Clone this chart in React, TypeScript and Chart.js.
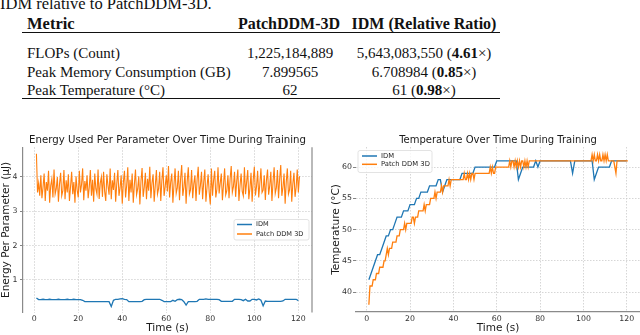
import React, { useEffect, useRef } from "react";
import { Chart, registerables } from "chart.js";

Chart.register(...registerables);

// ---------------- DATA ----------------
const seriesLabels = ["IDM", "Patch DDM 3D"];

const secondTime = [
  1, 2, 3, 4, 5, 6, 7, 8, 9, 10,
  11, 12, 13, 14, 15, 16, 17, 18, 19, 20,
  21, 22, 23, 24, 25, 26, 27, 28, 29, 30,
  31, 32, 33, 34, 35, 36, 37, 38, 39, 40,
  41, 42, 43, 44, 45, 46, 47, 48, 49, 50,
  51, 52, 53, 54, 55, 56, 57, 58, 59, 60,
  61, 62, 63, 64, 65, 66, 67, 68, 69, 70,
  71, 72, 73, 74, 75, 76, 77, 78, 79, 80,
  81, 82, 83, 84, 85, 86, 87, 88, 89, 90,
  91, 92, 93, 94, 95, 96, 97, 98, 99, 100,
  101, 102, 103, 104, 105, 106, 107, 108, 109, 110,
  111, 112, 113, 114, 115, 116, 117, 118, 119, 120,
];

const halfSecondTime = [
  1, 1.5, 2, 2.5, 3, 3.5, 4, 4.5, 5, 5.5,
  6, 6.5, 7, 7.5, 8, 8.5, 9, 9.5, 10, 10.5,
  11, 11.5, 12, 12.5, 13, 13.5, 14, 14.5, 15, 15.5,
  16, 16.5, 17, 17.5, 18, 18.5, 19, 19.5, 20, 20.5,
  21, 21.5, 22, 22.5, 23, 23.5, 24, 24.5, 25, 25.5,
  26, 26.5, 27, 27.5, 28, 28.5, 29, 29.5, 30, 30.5,
  31, 31.5, 32, 32.5, 33, 33.5, 34, 34.5, 35, 35.5,
  36, 36.5, 37, 37.5, 38, 38.5, 39, 39.5, 40, 40.5,
  41, 41.5, 42, 42.5, 43, 43.5, 44, 44.5, 45, 45.5,
  46, 46.5, 47, 47.5, 48, 48.5, 49, 49.5, 50, 50.5,
  51, 51.5, 52, 52.5, 53, 53.5, 54, 54.5, 55, 55.5,
  56, 56.5, 57, 57.5, 58, 58.5, 59, 59.5, 60, 60.5,
  61, 61.5, 62, 62.5, 63, 63.5, 64, 64.5, 65, 65.5,
  66, 66.5, 67, 67.5, 68, 68.5, 69, 69.5, 70, 70.5,
  71, 71.5, 72, 72.5, 73, 73.5, 74, 74.5, 75, 75.5,
  76, 76.5, 77, 77.5, 78, 78.5, 79, 79.5, 80, 80.5,
  81, 81.5, 82, 82.5, 83, 83.5, 84, 84.5, 85, 85.5,
  86, 86.5, 87, 87.5, 88, 88.5, 89, 89.5, 90, 90.5,
  91, 91.5, 92, 92.5, 93, 93.5, 94, 94.5, 95, 95.5,
  96, 96.5, 97, 97.5, 98, 98.5, 99, 99.5, 100, 100.5,
  101, 101.5, 102, 102.5, 103, 103.5, 104, 104.5, 105, 105.5,
  106, 106.5, 107, 107.5, 108, 108.5, 109, 109.5, 110, 110.5,
  111, 111.5, 112, 112.5, 113, 113.5, 114, 114.5, 115, 115.5,
  116, 116.5, 117, 117.5, 118, 118.5, 119, 119.5, 120, 120.5,
];

// Energy per parameter (µJ), IDM, one sample per second
const energyIDM = [
  0.47, 0.42, 0.42, 0.43, 0.42, 0.42, 0.43, 0.42, 0.42, 0.42,
  0.43, 0.42, 0.42, 0.42, 0.43, 0.42, 0.42, 0.43, 0.42, 0.42,
  0.42, 0.40, 0.36, 0.36, 0.36, 0.36, 0.36, 0.36, 0.36, 0.36,
  0.36, 0.36, 0.36, 0.36, 0.22, 0.40, 0.43, 0.43, 0.44, 0.45,
  0.43, 0.42, 0.36, 0.36, 0.36, 0.36, 0.36, 0.36, 0.37, 0.42,
  0.43, 0.43, 0.43, 0.43, 0.43, 0.43, 0.43, 0.40, 0.36, 0.36,
  0.36, 0.36, 0.40, 0.37, 0.42, 0.43, 0.42, 0.36, 0.26, 0.36,
  0.36, 0.36, 0.36, 0.37, 0.43, 0.43, 0.43, 0.44, 0.43, 0.43,
  0.43, 0.43, 0.43, 0.42, 0.37, 0.37, 0.37, 0.37, 0.37, 0.37,
  0.43, 0.43, 0.43, 0.42, 0.39, 0.43, 0.38, 0.38, 0.43, 0.43,
  0.41, 0.44, 0.40, 0.24, 0.38, 0.37, 0.37, 0.37, 0.37, 0.37,
  0.37, 0.37, 0.38, 0.43, 0.43, 0.43, 0.43, 0.43, 0.43, 0.39,
];

// Energy per parameter (µJ), Patch DDM 3D, two samples per second
const energyPatch = [
  4.68, 3.55, 3.82, 3.45, 4.05, 3.38, 3.70, 4.10, 3.30, 3.85,
  3.60, 4.18, 3.25, 3.75, 3.95, 3.40, 4.22, 3.50, 3.65, 4.00,
  3.28, 3.80, 4.12, 3.45, 3.60, 4.20, 3.35, 3.90, 3.55, 4.08,
  3.30, 3.72, 4.15, 3.50, 3.85, 3.25, 4.02, 3.62, 3.40, 4.18,
  3.55, 3.78, 4.25, 3.32, 3.88, 3.60, 4.05, 3.38, 3.70, 4.20,
  3.45, 3.92, 3.28, 4.10, 3.65, 3.50, 4.22, 3.36, 3.82, 4.00,
  3.42, 4.15, 3.58, 3.30, 4.08, 3.75, 3.48, 4.25, 3.35, 3.90,
  3.62, 4.12, 3.28, 3.80, 4.20, 3.45, 3.68, 4.05, 3.22, 3.85,
  4.18, 3.40, 3.75, 4.28, 3.30, 3.92, 3.55, 4.10, 3.25, 3.78,
  4.22, 3.48, 3.65, 4.02, 3.20, 3.88, 4.26, 3.42, 3.70, 4.12,
  3.35, 3.95, 3.60, 4.30, 3.38, 3.82, 4.08, 3.28, 3.75, 4.20,
  3.50, 3.66, 4.15, 3.30, 3.90, 4.28, 3.45, 3.72, 4.05, 3.58,
  4.32, 3.40, 3.85, 4.10, 3.25, 3.78, 4.25, 3.52, 3.68, 4.18,
  3.32, 3.95, 4.35, 3.45, 3.70, 4.12, 3.22, 3.88, 4.28, 3.50,
  3.62, 4.20, 3.38, 3.80, 4.05, 3.30, 3.92, 4.30, 3.48, 3.75,
  4.15, 3.35, 3.85, 4.22, 3.28, 3.70, 4.08, 3.55, 3.20, 4.25,
  3.45, 3.90, 4.18, 3.40, 3.65, 4.28, 3.52, 3.82, 4.10, 3.32,
  3.78, 4.25, 3.48, 3.60, 4.05, 3.38, 3.95, 4.32, 3.55, 3.72,
  4.15, 3.42, 3.88, 4.22, 3.30, 3.75, 4.10, 3.58, 3.45, 4.28,
  3.50, 3.85, 4.20, 3.35, 3.68, 4.12, 3.28, 3.92, 4.30, 3.46,
  3.72, 4.18, 3.40, 3.80, 4.25, 3.55, 3.62, 4.05, 3.33, 3.90,
  4.22, 3.48, 3.75, 4.15, 3.30, 3.86, 4.28, 3.52, 3.68, 4.20,
  3.38, 3.95, 4.35, 3.45, 3.70, 4.10, 3.22, 3.85, 4.25, 3.50,
  3.62, 4.18, 3.28, 3.80, 4.12, 3.42, 3.70, 4.22, 3.55, 4.02,
];

// Temperature (°C), IDM, one sample per second
const tempIDM = [
  42, 43, 44, 45, 46, 46, 47, 48, 49, 49,
  50, 50, 51, 52, 52, 52, 53, 53, 53, 54,
  54, 54, 55, 55, 56, 56, 56, 56, 57, 57,
  57, 57, 58, 58, 56, 57, 58, 58, 58, 58,
  58, 58, 58, 59, 59, 59, 59, 59, 59, 60,
  60, 60, 60, 60, 60, 60, 60, 60, 60, 61,
  61, 61, 61, 61, 61, 61, 61, 61, 61, 58,
  59, 60, 60, 60, 60, 60, 60, 61, 60, 61,
  61, 61, 61, 61, 61, 61, 61, 61, 61, 61,
  61, 61, 61, 61, 59, 61, 61, 61, 61, 61,
  61, 61, 61, 61, 58, 59, 60, 60, 60, 60,
  60, 60, 61, 61, 61, 61, 61, 61, 61, 61,
];

// Temperature (°C), Patch DDM 3D, two samples per second
const tempPatch = [
  38, 41, 41, 41, 42, 42, 42, 43, 43, 43,
  44, 44, 44, 44, 45, 45, 46, 47, 46, 47,
  47, 47, 48, 48, 48, 48, 49, 49, 49, 50,
  50, 50, 50, 51, 50, 51, 51, 51, 51, 51,
  52, 52, 51, 52, 52, 52, 53, 53, 53, 53,
  53, 54, 53, 54, 54, 54, 54, 55, 55, 55,
  55, 56, 55, 56, 56, 56, 56, 57, 56, 57,
  57, 57, 57, 57, 58, 57, 58, 58, 58, 58,
  58, 58, 58, 58, 58, 58, 58, 58, 59, 58,
  58, 59, 58, 59, 58, 59, 59, 58, 59, 59,
  59, 59, 59, 59, 59, 59, 59, 59, 59, 59,
  59, 59, 60, 59, 60, 59, 59, 60, 60, 60,
  60, 60, 60, 60, 60, 60, 60, 60, 60, 60,
  61, 60, 61, 61, 60, 61, 60, 61, 60, 61,
  60, 61, 61, 60, 61, 60, 61, 60, 61, 61,
  61, 61, 61, 61, 61, 61, 61, 61, 61, 61,
  61, 61, 61, 61, 61, 61, 61, 61, 61, 61,
  61, 61, 61, 61, 61, 61, 61, 61, 61, 61,
  61, 61, 61, 61, 61, 61, 61, 61, 61, 61,
  61, 61, 61, 61, 61, 61, 61, 61, 61, 61,
  61, 61, 61, 61, 61, 61, 62, 61, 62, 61,
  61, 62, 61, 62, 61, 61, 62, 61, 62, 61,
  62, 61, 61, 61, 61, 61, 61, 60, 59, 61,
  61, 61, 61, 61, 61, 61, 61, 61, 61, 61,
];

const timeTicks = [0, 20, 40, 60, 80, 100, 120];
const energyTicks = [1, 2, 3, 4];
const tempTicks = [40, 45, 50, 55, 60];

const tableHeader = ["Metric", "PatchDDM-3D", "IDM (Relative Ratio)"];
const tableMetrics = ["FLOPs (Count)", "Peak Memory Consumption (GB)", "Peak Temperature (°C)"];
const tablePatch = ["1,225,184,889", "7.899565", "62"];
const tableIDM = ["5,643,083,550", "6.708984", "61"];
const tableRatio = ["4.61", "0.85", "0.98"];

// ---------------- STYLE ----------------
const BLUE = "#1f77b4";
const ORANGE = "#ff7f0e";
const GRID = "#cccccc";
const SPINE = "#8a8a8a";
const SANS = '"DejaVu Sans", sans-serif';
const SERIF = '"Liberation Serif", "DejaVu Serif", serif';

const insideLegend = {
  id: "insideLegend",
  afterDraw(chart: any, _args: any, opts: any) {
    const ctx = chart.ctx;
    const { x, y, w, h, rows, lineX, lineLen, textGap, fontSize } = opts;
    ctx.save();
    const r = 2;
    ctx.beginPath();
    ctx.moveTo(x + r, y);
    ctx.lineTo(x + w - r, y);
    ctx.quadraticCurveTo(x + w, y, x + w, y + r);
    ctx.lineTo(x + w, y + h - r);
    ctx.quadraticCurveTo(x + w, y + h, x + w - r, y + h);
    ctx.lineTo(x + r, y + h);
    ctx.quadraticCurveTo(x, y + h, x, y + h - r);
    ctx.lineTo(x, y + r);
    ctx.quadraticCurveTo(x, y, x + r, y);
    ctx.closePath();
    ctx.fillStyle = "rgba(255,255,255,0.8)";
    ctx.fill();
    ctx.strokeStyle = "#dcdcdc";
    ctx.lineWidth = 0.8;
    ctx.stroke();
    ctx.font = `${fontSize}px ${SANS}`;
    ctx.textBaseline = "middle";
    ctx.textAlign = "left";
    chart.data.datasets.forEach((ds: any, i: number) => {
      const ry = rows[i];
      ctx.strokeStyle = ds.borderColor;
      ctx.lineWidth = 1.5;
      ctx.beginPath();
      ctx.moveTo(lineX, ry);
      ctx.lineTo(lineX + lineLen, ry);
      ctx.stroke();
      ctx.fillStyle = "#262626";
      ctx.fillText(ds.label, lineX + lineLen + textGap, ry);
    });
    ctx.restore();
  },
};

const rightSpine = {
  id: "rightSpine",
  afterDraw(chart: any) {
    const { ctx, chartArea: a } = chart;
    ctx.save();
    ctx.strokeStyle = SPINE;
    ctx.lineWidth = 1.2;
    ctx.beginPath();
    ctx.moveTo(a.right, a.top);
    ctx.lineTo(a.right, a.bottom);
    ctx.stroke();
    ctx.restore();
  },
};

const pairs = (xs: number[], ys: number[]) => ys.map((v, i) => ({ x: xs[i], y: v }));

function commonOptions(o: any) {
  return {
    animation: false,
    responsive: true,
    maintainAspectRatio: false,
    layout: { padding: o.padding },
    elements: { point: { radius: 0 }, line: { tension: 0 } },
    plugins: {
      legend: { display: false },
      tooltip: { enabled: false },
      title: {
        display: true,
        text: o.title,
        fullSize: false,
        color: "#1a1a1a",
        font: { family: SANS, size: o.titleSize, weight: "normal" },
        padding: { top: 9, bottom: 1 },
      },
      insideLegend: o.legend,
    },
    scales: {
      x: {
        type: "linear",
        min: o.xMin,
        max: o.xMax,
        afterBuildTicks: (s: any) => {
          s.ticks = timeTicks.map((v) => ({ value: v }));
        },
        afterFit: (s: any) => {
          s.height = o.xHeight;
        },
        grid: { color: GRID, lineWidth: 0.8, drawTicks: false },
        border: { display: o.xBorder, color: SPINE, width: 1.2, dash: [1.5, 1.5] },
        ticks: {
          font: { family: SANS, size: 7.8 },
          color: "#333",
          padding: 2,
          maxRotation: 0,
          callback: (v: any) => `${v}`,
        },
        title: {
          display: true,
          text: "Time (s)",
          color: "#1a1a1a",
          font: { family: SANS, size: 10.5 },
          padding: { top: 0, bottom: 0.5 },
        },
      },
      y: {
        type: "linear",
        min: o.yMin,
        max: o.yMax,
        afterBuildTicks: (s: any) => {
          s.ticks = o.yTicks.map((v: number) => ({ value: v }));
        },
        afterFit: (s: any) => {
          s.width = o.yWidth;
        },
        grid: { color: GRID, lineWidth: 0.8, drawTicks: true, tickLength: 3, tickColor: "#666", tickWidth: 0.8 },
        border: { display: o.yBorder, color: SPINE, width: 1.2, dash: [1.5, 1.5] },
        ticks: {
          font: { family: SANS, size: 7.8 },
          color: "#333",
          padding: o.yTickPad,
          callback: (v: any) => `${v}`,
        },
        title: {
          display: true,
          text: o.yTitle,
          color: "#1a1a1a",
          font: { family: SANS, size: 10.5 },
          padding: { top: o.yTitlePad, bottom: 0 },
        },
      },
    },
  };
}

function energyConfig(): any {
  return {
    type: "line",
    data: {
      datasets: [
        {
          label: seriesLabels[0],
          data: pairs(secondTime, energyIDM),
          borderColor: BLUE,
          borderWidth: 1.3,
          order: 1,
        },
        {
          label: seriesLabels[1],
          data: pairs(halfSecondTime, energyPatch),
          borderColor: ORANGE,
          borderWidth: 1.1,
          order: 0,
        },
      ],
    },
    options: commonOptions({
      title: "Energy Used Per Parameter Over Time During Training",
      titleSize: 10.2,
      padding: { left: 0, right: 8, top: 0, bottom: 0 },
      xMin: -5.1,
      xMax: 126.2,
      xHeight: 22.5,
      xBorder: false,
      yMin: 0.044,
      yMax: 4.868,
      yTicks: energyTicks,
      yWidth: 23,
      yBorder: true,
      yTickPad: 2.5,
      yTitle: "Energy Per Parameter (µJ)",
      yTitlePad: 0.3,
      legend: {
        x: 234,
        y: 94.5,
        w: 75,
        h: 20.5,
        rows: [99.5, 109],
        lineX: 237,
        lineLen: 15,
        textGap: 4,
        fontSize: 6.6,
      },
    }),
    plugins: [insideLegend, rightSpine],
  };
}

function tempConfig(): any {
  return {
    type: "line",
    data: {
      datasets: [
        {
          label: seriesLabels[0],
          data: pairs(secondTime, tempIDM),
          borderColor: BLUE,
          borderWidth: 1.3,
          order: 1,
        },
        {
          label: seriesLabels[1],
          data: pairs(halfSecondTime, tempPatch),
          borderColor: ORANGE,
          borderWidth: 1.3,
          order: 0,
        },
      ],
    },
    options: commonOptions({
      title: "Temperature Over Time During Training",
      titleSize: 10,
      padding: { left: 0, right: 0, top: 0, bottom: 0 },
      xMin: -4.94,
      xMax: 126.1,
      xHeight: 23,
      xBorder: true,
      yMin: 36.85,
      yMax: 63.2,
      yTicks: tempTicks,
      yWidth: 36,
      yBorder: false,
      yTickPad: 1,
      yTitle: "Temperature (°C)",
      yTitlePad: 9.5,
      legend: {
        x: 38,
        y: 25.5,
        w: 74,
        h: 22,
        rows: [31, 39.3],
        lineX: 42,
        lineLen: 15,
        textGap: 4,
        fontSize: 6.8,
      },
    }),
    plugins: [insideLegend],
  };
}

function ChartBox({ make, left, top, width, height }: any) {
  const ref = useRef<HTMLCanvasElement>(null);
  useEffect(() => {
    const chart = new Chart(ref.current as HTMLCanvasElement, make());
    return () => chart.destroy();
  }, []);
  return (
    <div style={{ position: "absolute", left, top, width, height }}>
      <canvas ref={ref} />
    </div>
  );
}

function Txt({ x, baseline, size = 15, bold = false, align = "left", children }: any) {
  const top = baseline - 0.3375 * size;
  const base: any = {
    position: "absolute",
    top,
    lineHeight: 0,
    fontFamily: SERIF,
    fontSize: size,
    fontWeight: bold ? "bold" : "normal",
    color: "#111",
    whiteSpace: "nowrap",
  };
  if (align === "center") {
    return <div style={{ ...base, left: x - 150, width: 300, textAlign: "center" }}>{children}</div>;
  }
  return <div style={{ ...base, left: x }}>{children}</div>;
}

function Table() {
  const rowBase = [58.3, 76.9, 95];
  return (
    <div style={{ position: "absolute", left: 0, top: 0, width: 640, height: 110 }}>
      <Txt x={0} baseline={9.5} size={16.5}>IDM relative to PatchDDM-3D.</Txt>
      <Txt x={27} baseline={29.2} size={16.5} bold>{tableHeader[0]}</Txt>
      <Txt x={289} baseline={29.2} size={16} bold align="center">{tableHeader[1]}</Txt>
      <Txt x={424} baseline={29.2} size={16} bold align="center">{tableHeader[2]}</Txt>
      <div style={{ position: "absolute", left: 22, top: 31.8, width: 478, height: 0.9, background: "#111" }} />
      {tableMetrics.map((m, i) => (
        <React.Fragment key={m}>
          <Txt x={27} baseline={rowBase[i]}>{m}</Txt>
          <Txt x={290} baseline={rowBase[i]} align="center">{tablePatch[i]}</Txt>
          <Txt x={424} baseline={rowBase[i]} align="center">
            {tableIDM[i]} (<b>{tableRatio[i]}</b>×)
          </Txt>
        </React.Fragment>
      ))}
      <div style={{ position: "absolute", left: 22, top: 97.8, width: 478, height: 1.4, background: "#111" }} />
    </div>
  );
}

export default function App() {
  return (
    <div
      style={{
        position: "absolute",
        left: 0,
        top: 0,
        width: 640,
        height: 335,
        overflow: "hidden",
        background: "#fff",
      }}
    >
      <Table />
      <ChartBox make={energyConfig} left={0} top={125} width={320} height={210} />
      <ChartBox make={tempConfig} left={320} top={125} width={320} height={210} />
    </div>
  );
}
